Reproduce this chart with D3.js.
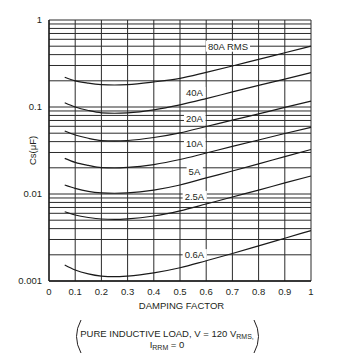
<!DOCTYPE html>
<html><head><meta charset="utf-8">
<script src="https://cdn.jsdelivr.net/npm/d3@7"></script>
<style>body{margin:0;background:#fff}svg{display:block}text{font-family:"Liberation Sans",Arial,Helvetica,sans-serif;fill:#231f20}</style>
</head><body><svg id="c" width="343" height="357"></svg>
<script>
const dampingFactor = [0.06, 0.1, 0.15, 0.2, 0.25, 0.3, 0.4, 0.5, 0.6, 0.7, 0.8, 0.9, 1.0];
const cs80A  = [0.22, 0.20, 0.188, 0.181, 0.179, 0.181, 0.194, 0.213, 0.25, 0.296, 0.353, 0.42, 0.50];
const cs40A  = [0.112, 0.100, 0.0912, 0.0858, 0.0847, 0.0858, 0.0929, 0.106, 0.125, 0.149, 0.177, 0.209, 0.248];
const cs20A  = [0.053, 0.0477, 0.0437, 0.0412, 0.0407, 0.0412, 0.0446, 0.0505, 0.0597, 0.0705, 0.0835, 0.0989, 0.117];
const cs10A  = [0.0257, 0.0231, 0.0213, 0.0201, 0.0199, 0.0202, 0.0218, 0.0249, 0.0296, 0.0352, 0.0418, 0.0496, 0.0584];
const cs5A   = [0.0127, 0.0116, 0.0107, 0.0103, 0.0102, 0.0103, 0.0111, 0.0127, 0.0153, 0.0184, 0.0222, 0.0269, 0.0325];
const cs2_5A = [0.00626, 0.00574, 0.00537, 0.00516, 0.00512, 0.00519, 0.00559, 0.00641, 0.00768, 0.00924, 0.0111, 0.0134, 0.0161];
const cs0_6A = [0.00153, 0.00134, 0.00121, 0.00114, 0.00112, 0.00114, 0.00124, 0.00142, 0.00171, 0.00207, 0.00253, 0.0031, 0.0038];
const seriesLabels = ["80A RMS", "40A", "20A", "10A", "5A", "2.5A", "0.6A"];
const seriesValues = [cs80A, cs40A, cs20A, cs10A, cs5A, cs2_5A, cs0_6A];
// label anchor (damping factor, Cs) for each curve label
const labelX = [0.683, 0.555, 0.555, 0.555, 0.555, 0.555, 0.555];
const labelY = [0.5, 0.147, 0.073, 0.038, 0.0183, 0.0094, 0.00201];
const xTicks = [0, 0.1, 0.2, 0.3, 0.4, 0.5, 0.6, 0.7, 0.8, 0.9, 1];
const xTickLabels = ["0", "0.1", "0.2", "0.3", "0.4", "0.5", "0.6", "0.7", "0.8", "0.9", "1"];
const yTicks = [1, 0.1, 0.01, 0.001];
const yTickLabels = ["1", "0.1", "0.01", "0.001"];

const svg = d3.select("#c");
const L = 49, R = 311, T = 20, B = 281;
const x = d3.scaleLinear().domain([0, 1]).range([L, R]);
const y = d3.scaleLog().domain([0.001, 1]).range([B, T]);
const gridColor = "#2b2b2b";

// horizontal grid (log minors)
const g = svg.append("g");
g.selectAll("line.h").data(y.ticks()).join("line")
  .attr("x1", L).attr("x2", R).attr("y1", d => y(d)).attr("y2", d => y(d))
  .attr("stroke", gridColor).attr("stroke-width", 1);
g.selectAll("line.v").data(xTicks).join("line")
  .attr("y1", T).attr("y2", B).attr("x1", d => x(d)).attr("x2", d => x(d))
  .attr("stroke", gridColor).attr("stroke-width", 1);
// frame (left and bottom heavier)
svg.append("line").attr("x1", L).attr("x2", L).attr("y1", T).attr("y2", B).attr("stroke", "#1a1a1a").attr("stroke-width", 1.3);
svg.append("line").attr("x1", L).attr("x2", R).attr("y1", B).attr("y2", B).attr("stroke", "#1a1a1a").attr("stroke-width", 1.3);

// curves
const line = d3.line().x((d, i) => x(dampingFactor[i])).y(d => y(d)).curve(d3.curveMonotoneX);
svg.selectAll("path.curve").data(seriesValues).join("path")
  .attr("d", d => line(d)).attr("fill", "none").attr("stroke", "#1a1a1a").attr("stroke-width", 1.2);

// curve labels with white boxes
const fs = 9.5;
seriesLabels.forEach((lab, i) => {
  const cx = x(labelX[i]), cy = y(labelY[i]);
  const t = svg.append("text").attr("x", cx).attr("y", cy + 3.4).attr("text-anchor", "middle")
    .attr("font-size", fs).text(lab);
  const bb = t.node().getBBox();
  svg.insert("rect", () => t.node()).attr("x", bb.x - 2).attr("y", cy - 5.5).attr("width", bb.width + 4).attr("height", 11).attr("fill", "#fff");
});

// tick labels
svg.selectAll("text.xt").data(xTicks).join("text")
  .attr("x", d => x(d)).attr("y", 294.5).attr("text-anchor", "middle").attr("font-size", fs)
  .text((d, i) => xTickLabels[i]);
svg.selectAll("text.yt").data(yTicks).join("text")
  .attr("x", 42).attr("y", d => y(d) + 3.4).attr("text-anchor", "end").attr("font-size", fs)
  .text((d, i) => yTickLabels[i]);

// axis titles
svg.append("text").attr("x", (L + R) / 2 + 1.5).attr("y", 308.5).attr("text-anchor", "middle").attr("font-size", fs).text("DAMPING FACTOR");
svg.append("text").attr("transform", "translate(35.5," + ((T + B) / 2) + ") rotate(-90)").attr("text-anchor", "middle").attr("font-size", fs).text("Cs(μF)");

// note
const n1 = svg.append("text").attr("x", 167).attr("y", 336.8).attr("text-anchor", "middle").attr("font-size", fs);
n1.append("tspan").text("PURE INDUCTIVE LOAD, V = 120 V");
n1.append("tspan").attr("font-size", 7).attr("dy", 2.5).text("RMS,");
const n2 = svg.append("text").attr("x", 167).attr("y", 347.5).attr("text-anchor", "middle").attr("font-size", fs);
n2.append("tspan").text("I");
n2.append("tspan").attr("font-size", 7).attr("dy", 2.5).text("RRM");
n2.append("tspan").attr("dy", -2.5).text(" = 0");
const pl = d3.path(); pl.moveTo(81, 320); pl.quadraticCurveTo(72, 336.5, 81, 353);
const pr = d3.path(); pr.moveTo(254, 320); pr.quadraticCurveTo(263, 336.5, 254, 353);
svg.append("path").attr("d", pl.toString()).attr("fill", "none").attr("stroke", "#231f20").attr("stroke-width", 1);
svg.append("path").attr("d", pr.toString()).attr("fill", "none").attr("stroke", "#231f20").attr("stroke-width", 1);
</script></body></html>
